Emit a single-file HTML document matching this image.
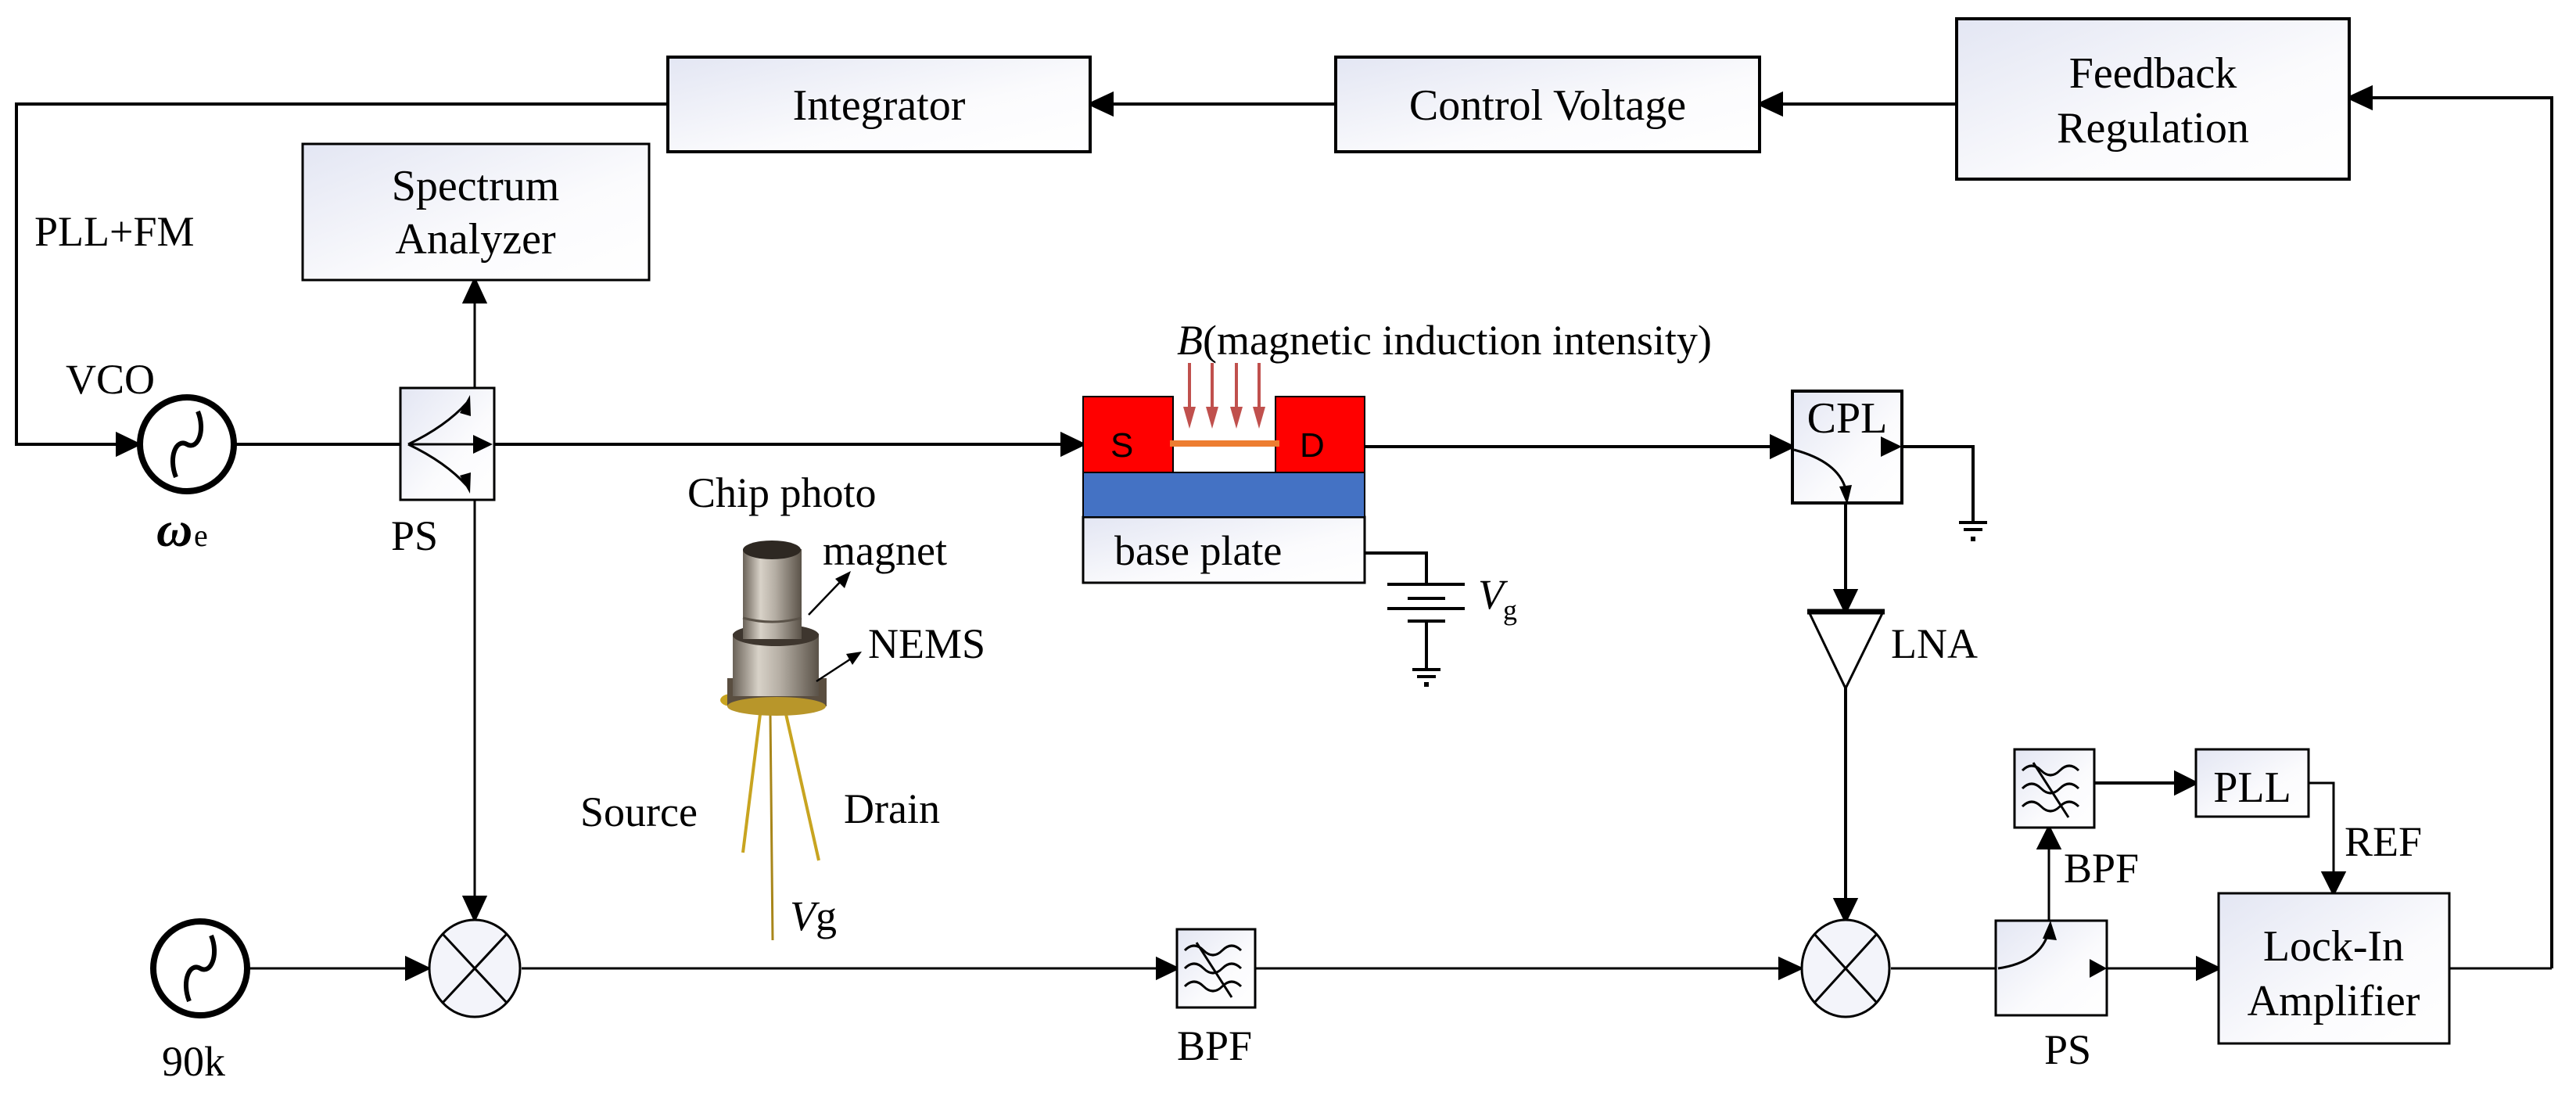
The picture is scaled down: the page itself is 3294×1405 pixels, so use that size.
<!DOCTYPE html>
<html><head><meta charset="utf-8"><style>
html,body{margin:0;padding:0;background:#fff;}
svg{display:block;}
</style></head><body>
<svg width="3294" height="1405" viewBox="0 0 3294 1405" xmlns="http://www.w3.org/2000/svg" font-family="'Liberation Serif', serif">
<defs>
<linearGradient id="bx" x1="0" y1="0" x2="1" y2="1">
<stop offset="0" stop-color="#e3e6f3"/><stop offset="0.6" stop-color="#fbfbfd"/><stop offset="1" stop-color="#ffffff"/>
</linearGradient>
<linearGradient id="metal" x1="0" y1="0" x2="1" y2="0">
<stop offset="0" stop-color="#6a6258"/><stop offset="0.3" stop-color="#d8d2c8"/><stop offset="0.55" stop-color="#b5aea4"/><stop offset="1" stop-color="#5a5248"/>
</linearGradient>
</defs>
<g stroke="#000" fill="none" stroke-width="4">
<path d="M3263,1238 L3263,125 L3032,125"/>
<path d="M3004,125 L3032,112 L3032,138 z" fill="#000"/>
<path d="M2502,133 L2278,133"/>
<path d="M2250,133 L2278,120 L2278,146 z" fill="#000"/>
<path d="M1708,133 L1422,133"/>
<path d="M1394,133 L1422,120 L1422,146 z" fill="#000"/>
<path d="M854,133 L21,133 L21,568 L150,568"/>
<path d="M177,568 L150,555 L150,581 z" fill="#000"/>
<path d="M301,568 L1358,568"/>
<path d="M1385,568 L1358,555 L1358,581 z" fill="#000"/>
<path d="M1745,571 L2265,571"/>
<path d="M2292,571 L2265,558 L2265,584 z" fill="#000"/>
<path d="M2432,571 L2523,571 L2523,667"/>
<path d="M2360,643 L2360,755"/>
<path d="M2360,782 L2347,755 L2373,755 z" fill="#000"/>
<path d="M2360,879 L2360,1150"/>
<path d="M2360,1177 L2347,1150 L2373,1150 z" fill="#000"/>
<path d="M607,386 L607,1147" stroke-width="3"/>
<path d="M607,358 L594,386 L620,386 z" fill="#000"/>
<path d="M607,1175 L594,1147 L620,1147 z" fill="#000"/>
<path d="M318,1238 L520,1238" stroke-width="3"/>
<path d="M547,1238 L520,1225 L520,1251 z" fill="#000"/>
<path d="M667,1238 L1480,1238" stroke-width="3"/>
<path d="M1505,1238 L1480,1226 L1480,1250 z" fill="#000"/>
<path d="M1605,1238 L2276,1238" stroke-width="3"/>
<path d="M2302,1238 L2276,1226 L2276,1250 z" fill="#000"/>
<path d="M2418,1238 L2810,1238" stroke-width="3"/>
<path d="M2837,1238 L2810,1225 L2810,1251 z" fill="#000"/>
<path d="M3132,1238 L3263,1238" stroke-width="3"/>
<path d="M2620,1177 L2620,1084" stroke-width="3"/>
<path d="M2620,1058 L2607,1084 L2633,1084 z" fill="#000"/>
<path d="M2678,1001 L2782,1001"/>
<path d="M2808,1001 L2782,988 L2782,1014 z" fill="#000"/>
<path d="M2952,1001 L2984,1001 L2984,1116" stroke-width="3"/>
<path d="M2984,1142 L2971,1116 L2997,1116 z" fill="#000"/>
</g>
<g stroke="#000" stroke-width="4" fill="url(#bx)">
<rect x="854" y="73" width="540" height="121"/>
<rect x="1708" y="73" width="542" height="121"/>
<rect x="2502" y="24" width="502" height="205"/>
<rect x="387" y="184" width="443" height="174" stroke-width="3"/>
<rect x="512" y="496" width="120" height="143" stroke-width="3"/>
<rect x="2292" y="500" width="140" height="143"/>
<rect x="1505" y="1188" width="100" height="100" stroke-width="3"/>
<rect x="2552" y="1177" width="142" height="121" stroke-width="3"/>
<rect x="2576" y="958" width="102" height="100" stroke-width="3"/>
<rect x="2808" y="958" width="144" height="86" stroke-width="3"/>
<rect x="2837" y="1142" width="295" height="192" stroke-width="3"/>
<rect x="1385" y="661" width="360" height="84" stroke-width="3"/>
</g>
<g stroke="#000" stroke-width="3" fill="none">
<path d="M522,568 Q570,545 597,515"/><path d="M522,568 Q570,591 597,621"/>
<path d="M522,568 L605,568"/>
</g>
<path d="M601,505 L588,528 L602,532 z"/><path d="M601,631 L588,608 L602,604 z"/>
<path d="M630,568 L605,556 L605,580 z"/>
<path d="M2294,575 Q2350,590 2360,625" stroke="#000" stroke-width="3" fill="none"/>
<path d="M2362,645 L2352,622 L2368,620 z"/>
<path d="M2432,571 L2405,558 L2405,584 z"/>
<path d="M2555,1238 Q2610,1230 2620,1190" stroke="#000" stroke-width="3" fill="none"/>
<path d="M2622,1177 L2612,1200 L2630,1202 z"/>
<path d="M2694,1238 L2672,1226 L2672,1250 z"/>
<g stroke="#000" stroke-width="3" fill="none">
<path d="M1515,1215 q12,-12 24,0 t24,0 t24,0"/><path d="M1515,1238 q12,-12 24,0 t24,0 t24,0"/><path d="M1515,1261 q12,-12 24,0 t24,0 t24,0"/>
<path d="M1530,1205 L1575,1275"/>
<path d="M2586,985 q12,-12 24,0 t24,0 t24,0"/><path d="M2586,1008 q12,-12 24,0 t24,0 t24,0"/><path d="M2586,1031 q12,-12 24,0 t24,0 t24,0"/>
<path d="M2600,975 L2645,1045"/>
</g>
<g stroke="#000" stroke-width="8" fill="#fff">
<circle cx="239" cy="568" r="60"/>
<circle cx="256" cy="1238" r="60"/>
</g>
<g stroke="#000" stroke-width="6" fill="none">
<path d="M225,610 C215,585 225,560 239,568 C253,576 263,550 253,526"/>
<path d="M242,1280 C232,1255 242,1230 256,1238 C270,1246 280,1220 270,1196"/>
</g>
<g stroke="#000" stroke-width="3" fill="#f3f4fa">
<ellipse cx="607" cy="1238" rx="58" ry="62"/>
<ellipse cx="2360" cy="1238" rx="56" ry="62"/>
</g>
<g stroke="#000" stroke-width="3">
<path d="M566,1194 L648,1282 M648,1194 L566,1282"/>
<path d="M2320,1194 L2400,1282 M2400,1194 L2320,1282"/>
</g>
<path d="M2313,782 L2408,782 L2360,880 z" fill="#fff" stroke="#000" stroke-width="3"/>
<path d="M2311,782 L2410,782" stroke="#000" stroke-width="7"/>
<rect x="1385" y="507" width="115" height="97" fill="#ff0000" stroke="#000" stroke-width="2"/>
<rect x="1631" y="507" width="114" height="97" fill="#ff0000" stroke="#000" stroke-width="2"/>
<rect x="1385" y="604" width="360" height="57" fill="#4472c4" stroke="#000" stroke-width="2"/>
<path d="M1496,567 L1636,567" stroke="#ed7d31" stroke-width="8"/>
<g stroke="#c0504d" stroke-width="4">
<path d="M1521,464 L1521,525 M1550,464 L1550,525 M1581,464 L1581,525 M1610,464 L1610,525"/>
</g>
<g fill="#c0504d">
<path d="M1513,520 L1529,520 L1521,548 z"/><path d="M1542,520 L1558,520 L1550,548 z"/><path d="M1573,520 L1589,520 L1581,548 z"/><path d="M1602,520 L1618,520 L1610,548 z"/>
</g>
<text x="1420" y="584" font-size="44" font-family="'Liberation Sans', sans-serif">S</text>
<text x="1662" y="584" font-size="44" font-family="'Liberation Sans', sans-serif">D</text>
<g stroke="#000" stroke-width="4" fill="none">
<path d="M1745,707 L1824,707 L1824,747"/>
<path d="M1774,747 L1873,747 M1800,765 L1848,765 M1774,778 L1873,778 M1800,794 L1848,794"/>
<path d="M1824,794 L1824,854"/>
<path d="M1806,856 L1842,856 M1812,865 L1836,865"/>
<path d="M2505,668 L2541,668 M2511,677 L2535,677"/>
</g>
<rect x="1821" y="872" width="6" height="6"/>
<rect x="2520" y="686" width="6" height="6"/>
<g>
<path d="M972,913 L950,1090" stroke="#c8a420" stroke-width="4" fill="none"/>
<path d="M985,913 L988,1202" stroke="#a8861a" stroke-width="3" fill="none"/>
<path d="M1005,913 L1047,1100" stroke="#c8a420" stroke-width="4" fill="none"/>
<ellipse cx="935" cy="895" rx="14" ry="8" fill="#c8a420"/>
<rect x="930" y="867" width="127" height="36" fill="#5a4e40"/>
<ellipse cx="993" cy="903" rx="63" ry="12" fill="#b8962a"/>
<rect x="937" y="810" width="110" height="80" fill="url(#metal)"/>
<ellipse cx="992" cy="812" rx="55" ry="14" fill="#3e362e"/>
<rect x="950" y="702" width="75" height="115" fill="url(#metal)"/>
<ellipse cx="987" cy="703" rx="37" ry="12" fill="#2e2822"/>
<path d="M950,790 Q987,800 1025,790" stroke="#5a5248" stroke-width="3" fill="none"/>
</g>
<g stroke="#000" stroke-width="2.5">
<path d="M1034,786 L1080,738"/><path d="M1044,871 L1096,837"/>
</g>
<path d="M1088,730 L1068,740 L1080,752 z"/><path d="M1102,833 L1082,836 L1090,850 z"/>
<g font-size="56" text-anchor="middle" font-family="'Liberation Serif', serif">
<text x="1124" y="153">Integrator</text>
<text x="1979" y="153">Control Voltage</text>
<text x="2753" y="112">Feedback</text>
<text x="2753" y="182">Regulation</text>
<text x="608" y="256">Spectrum</text>
<text x="608" y="324">Analyzer</text>
<text x="2984" y="1228">Lock-In</text>
<text x="2984" y="1298">Amplifier</text>
<text x="2880" y="1025">PLL</text>
<text x="2362" y="553">CPL</text>
</g>
<g font-size="54" font-family="'Liberation Serif', serif">
<text x="44" y="314">PLL+FM</text>
<text x="84" y="503">VCO</text>
<text x="500" y="703">PS</text>
<text x="879" y="648">Chip photo</text>
<text x="1505" y="453"><tspan font-style="italic">B</tspan>(magnetic induction intensity)</text>
<text x="1425" y="722">base plate</text>
<text x="1052" y="722">magnet</text>
<text x="1110" y="841">NEMS</text>
<text x="742" y="1056">Source</text>
<text x="1079" y="1052">Drain</text>
<text x="1010" y="1189"><tspan font-style="italic">V</tspan>g</text>
<text x="1890" y="778" font-style="italic">V</text><text x="1922" y="792" font-size="36">g</text>
<text x="2418" y="841">LNA</text>
<text x="207" y="1375">90k</text>
<text x="1505" y="1355">BPF</text>
<text x="2639" y="1128">BPF</text>
<text x="2998" y="1094">REF</text>
<text x="2614" y="1360">PS</text>
<text x="200" y="698" font-size="64" font-style="italic" font-weight="bold">ω</text><text x="248" y="698" font-size="40">e</text>
</g>
</svg>
</body></html>
